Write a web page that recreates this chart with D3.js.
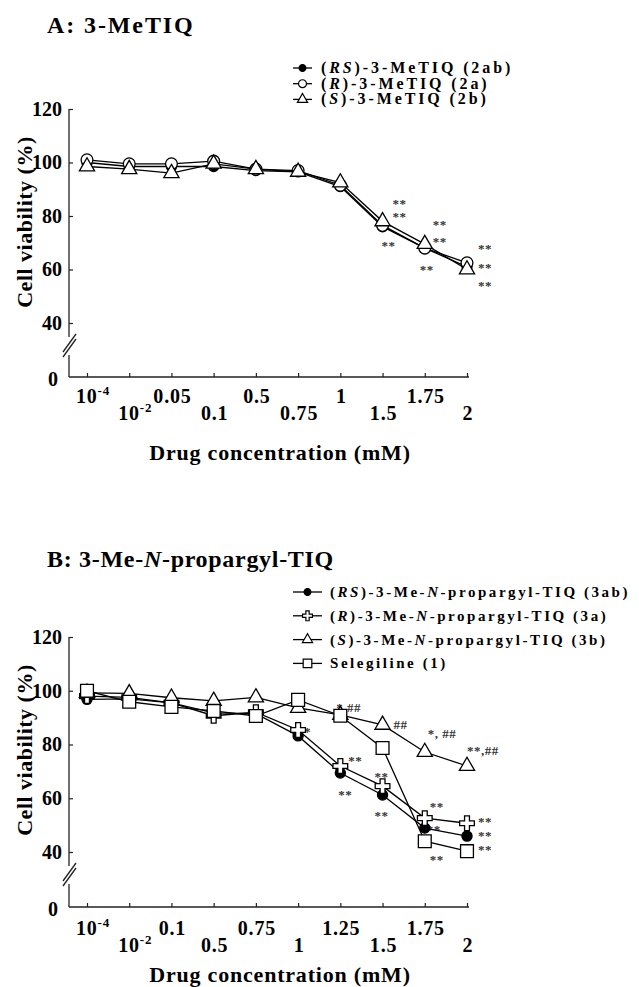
<!DOCTYPE html>
<html>
<head>
<meta charset="utf-8">
<script src="https://d3js.org/d3.v7.min.js"></script>
<style>
  body { margin: 0; background: #fff; }
  svg { display: block; font-family: "Liberation Serif", "Times New Roman", serif; font-weight: bold; }
</style>
</head>
<body>
<script>
'use strict';

// ---- panel A : 3-MeTIQ
const concA = ["10^-4", "10^-2", "0.05", "0.1", "0.5", "0.75", "1", "1.5", "1.75", "2"];
const rsA = [100, 98.5, 98.5, 98.5, 97, 96.5, 91, 76, 68, 61];
const rA  = [101, 99.5, 99.5, 100.5, 97.5, 97, 91.5, 76.5, 68, 62.5];
const sA  = [98.5, 97.5, 96, 99.5, 97.5, 96.5, 92.5, 78, 69.5, 60];
const legendA = ["(<i>RS</i>)-3-MeTIQ (2ab)", "(<i>R</i>)-3-MeTIQ (2a)", "(<i>S</i>)-3-MeTIQ (2b)"];
// [concentration index, viability, mark]
const starsA = [
  [7, 85.3, "**"], [7, 80.3, "**"], [7, 69.5, "**"],
  [8, 77.2, "**"], [8, 71.0, "**"], [8, 60.5, "**"],
  [9, 68.5, "**"], [9, 61.4, "**"], [9, 54.5, "**"]
];

// ---- panel B : 3-Me-N-propargyl-TIQ
const concB = ["10^-4", "10^-2", "0.1", "0.5", "0.75", "1", "1.25", "1.5", "1.75", "2"];
const rsB  = [96.8, 97, 95.5, 91.8, 91.5, 83.2, 69.4, 61.2, 48.9, 45.9];
const rB   = [98, 97.5, 95.5, 90.7, 92, 85.4, 72, 64.5, 52.6, 50.7];
const sB   = [99.2, 99, 97.4, 96.2, 97.5, 93.6, 91, 87.3, 77.2, 72];
const selB = [100, 95.9, 94, 92.5, 90.6, 96.6, 90.7, 78.7, 44, 40.3];
const legendB = ["(<i>RS</i>)-3-Me-<i>N</i>-propargyl-TIQ (3ab)", "(<i>R</i>)-3-Me-<i>N</i>-propargyl-TIQ (3a)",
                 "(<i>S</i>)-3-Me-<i>N</i>-propargyl-TIQ (3b)", "Selegiline (1)"];
const starsB = [
  [5, 85.3, "**"],
  [6, 94.3, "*,##"], [6, 74.7, "**"], [6, 61.9, "**"],
  [7, 87.9, "##"], [7, 68.7, "**"], [7, 54.3, "**"],
  [8, 84.5, "*, ##"], [8, 57.5, "**"], [8, 49.1, "**"], [8, 36, "**"],
  [9, 78.5, "**,##"], [9, 52, "**"], [9, 46.8, "**"], [9, 41.6, "**"]
];

const yTicks = [0, 40, 60, 80, 100, 120];

let svg;

window.onload = function() {
  svg = d3.select('body').append('svg')
    .attr('width', 639)
    .attr('height', 987);
  svg.append('rect').attr('width', 639).attr('height', 987).attr('fill', '#fff');

  // marker styles for each series
  const filledCircle = { type: d3.symbolCircle, size: 80, fill: '#000' };
  const openCircle = { type: d3.symbolCircle, size: 110, fill: '#fff' };
  const openTri = { type: d3.symbolTriangle, size: 100, fill: '#fff' };
  const openCross = { type: d3.symbolCross, size: 120, fill: '#fff' };
  const openSquare = { type: d3.symbolSquare, size: 165, fill: '#fff' };

  drawPanel({
    title: "A: 3-MeTIQ", titleY: 33, titleLs: 1.9,
    top: 109, y40: 323, bottom: 377, xLabelY: 403, xTitleY: 460, yLabelY: 222,
    cats: concA,
    series: [[rsA, filledCircle], [rA, openCircle], [sA, openTri]],
    legend: legendA, legendY: 68, legendRow: 15.7, lineEnd: 312, textX: 321,
    legendFont: 16, legendLs: 2.9,
    stars: starsA,
    starDx: { "7": [10, 10, -1], "8": [8, 8, -5], "9": [11, 11, 11] }
  });

  drawPanel({
    title: "B: 3-Me-<i>N</i>-propargyl-TIQ", titleY: 567, titleLs: 0.7,
    top: 637, y40: 852, bottom: 907, xLabelY: 935, xTitleY: 982, yLabelY: 750,
    cats: concB,
    series: [[rsB, filledCircle], [rB, openCross], [sB, openTri], [selB, openSquare]],
    legend: legendB, legendY: 592, legendRow: 23.8, lineEnd: 322, textX: 330,
    legendFont: 15, legendLs: 2.55,
    stars: starsB,
    starDx: { "5": [-1], "6": [-4, 8, -2], "7": [11, -8, -8], "8": [3, 5, 2, 5], "9": [0, 11, 11, 11] }
  });
};

// write text with <i>..</i> parts as italic tspans
function richText(sel, str) {
  str.split(/(<i>.*?<\/i>)/).filter(s => s.length).forEach(part => {
    const it = part.startsWith('<i>');
    sel.append('tspan')
      .style('font-style', it ? 'italic' : 'normal')
      .text(it ? part.slice(3, -4) : part);
  });
}

function drawPanel(p) {
  const left = 69, axisEnd = 469;
  const g = svg.append('g');

  const x = d3.scalePoint().domain(p.cats).range([87, 467]);
  const y = d3.scaleLinear().domain([0, 40, 120]).range([p.bottom, p.y40, p.top]);

  // title
  richText(g.append('text')
    .attr('x', 47).attr('y', p.titleY)
    .style('font-size', '24px').style('letter-spacing', p.titleLs + 'px'), p.title);

  // y axis (ticks inward)
  const ya = g.append('g')
    .attr('transform', 'translate(' + left + ',0)')
    .call(d3.axisLeft(y).tickValues(yTicks).tickSize(-4).tickPadding(7));
  ya.select('.domain').remove();
  ya.attr('font-family', null).attr('font-size', null);
  ya.selectAll('line').attr('stroke', '#222').attr('stroke-width', 1.2);
  ya.selectAll('.tick').filter(d => d === 0).select('line').remove();
  ya.selectAll('.tick').filter(d => d === 0).select('text').attr('x', -11).attr('dy', '0.4em');
  ya.selectAll('text').style('font-size', '20px').attr('fill', '#000');

  // axis line with break between 0 and 40
  g.append('line').attr('x1', left).attr('x2', left).attr('y1', p.top).attr('y2', p.y40 + 14)
    .attr('stroke', '#222').attr('stroke-width', 1.3);
  g.append('line').attr('x1', left).attr('x2', left).attr('y1', p.y40 + 32).attr('y2', p.bottom)
    .attr('stroke', '#222').attr('stroke-width', 1.3);
  [0, -5].forEach(o => {
    g.append('line')
      .attr('x1', left - 6).attr('y1', p.y40 + 34 + o)
      .attr('x2', left + 7).attr('y2', p.y40 + 16 + o)
      .attr('stroke', '#222').attr('stroke-width', 1.3);
  });

  // x axis
  const xa = g.append('g')
    .attr('transform', 'translate(0,' + p.bottom + ')')
    .call(d3.axisBottom(x).tickSize(-4).tickSizeOuter(0).tickFormat(''));
  xa.select('.domain').remove();
  xa.selectAll('line').attr('stroke', '#222').attr('stroke-width', 1.2);
  g.append('line').attr('x1', left).attr('x2', axisEnd).attr('y1', p.bottom).attr('y2', p.bottom)
    .attr('stroke', '#222').attr('stroke-width', 1.3);

  // alternating tick labels
  p.cats.forEach((c, i) => {
    const parts = c.split('^');
    const t = g.append('text')
      .attr('x', x(c) + (parts.length > 1 ? 6 : 1))
      .attr('y', p.xLabelY + (i % 2 ? 17 : 0))
      .attr('text-anchor', 'middle')
      .style('font-size', '20px').style('letter-spacing', '0.8px');
    t.append('tspan').text(parts[0]);
    if (parts.length > 1) {
      t.append('tspan').attr('dy', -8).style('font-size', '13px').text(parts[1]);
    }
  });

  // axis titles
  g.append('text')
    .attr('x', 280).attr('y', p.xTitleY)
    .attr('text-anchor', 'middle')
    .style('font-size', '22px').style('letter-spacing', '0.8px')
    .text('Drug concentration (mM)');
  g.append('text')
    .attr('transform', 'translate(32,' + p.yLabelY + ')rotate(-90)')
    .attr('text-anchor', 'middle')
    .style('font-size', '22px').style('letter-spacing', '0.5px')
    .text('Cell viability (%)');

  // significance marks, one text per concentration
  d3.groups(p.stars, s => s[0]).forEach(([idx, marks]) => {
    const dxs = p.starDx[String(idx)];
    const t = g.append('text')
      .attr('fill', '#333')
      .style('font-size', '13px')
      .style('letter-spacing', '0.5px');
    marks.forEach((s, j) => {
      t.append('tspan')
        .attr('x', x(p.cats[idx]) + dxs[j])
        .attr('y', y(s[1]) + 6)
        .text(s[2]);
    });
  });

  // lines and markers
  const line = d3.line().x((d, i) => x(p.cats[i])).y(d => y(d));
  p.series.forEach(s => {
    g.append('path')
      .datum(s[0])
      .attr('d', line)
      .attr('fill', 'none')
      .attr('stroke', '#000')
      .attr('stroke-width', 1.3);
  });
  p.series.forEach(s => {
    const m = s[1];
    g.selectAll(null)
      .data(s[0])
      .enter()
      .append('path')
      .attr('transform', (d, i) => 'translate(' + x(p.cats[i]) + ',' + y(d) + ')')
      .attr('d', d3.symbol().type(m.type).size(m.size))
      .attr('fill', m.fill)
      .attr('stroke', '#000')
      .attr('stroke-width', 1.3);
  });

  // legend
  p.legend.forEach((txt, i) => {
    const ly = p.legendY + i * p.legendRow;
    const m = p.series[i][1];
    g.append('line').attr('x1', 293).attr('x2', p.lineEnd).attr('y1', ly).attr('y2', ly)
      .attr('stroke', '#000').attr('stroke-width', 1.3);
    g.append('path')
      .attr('transform', 'translate(' + (293 + p.lineEnd) / 2 + ',' + ly + ')')
      .attr('d', d3.symbol().type(m.type).size(m.size * 0.45))
      .attr('fill', m.fill)
      .attr('stroke', '#000')
      .attr('stroke-width', 1.2);
    richText(g.append('text')
      .attr('x', p.textX).attr('y', ly + 5)
      .style('font-size', p.legendFont + 'px').style('letter-spacing', p.legendLs + 'px'), txt);
  });
}
</script>
</body>
</html>
